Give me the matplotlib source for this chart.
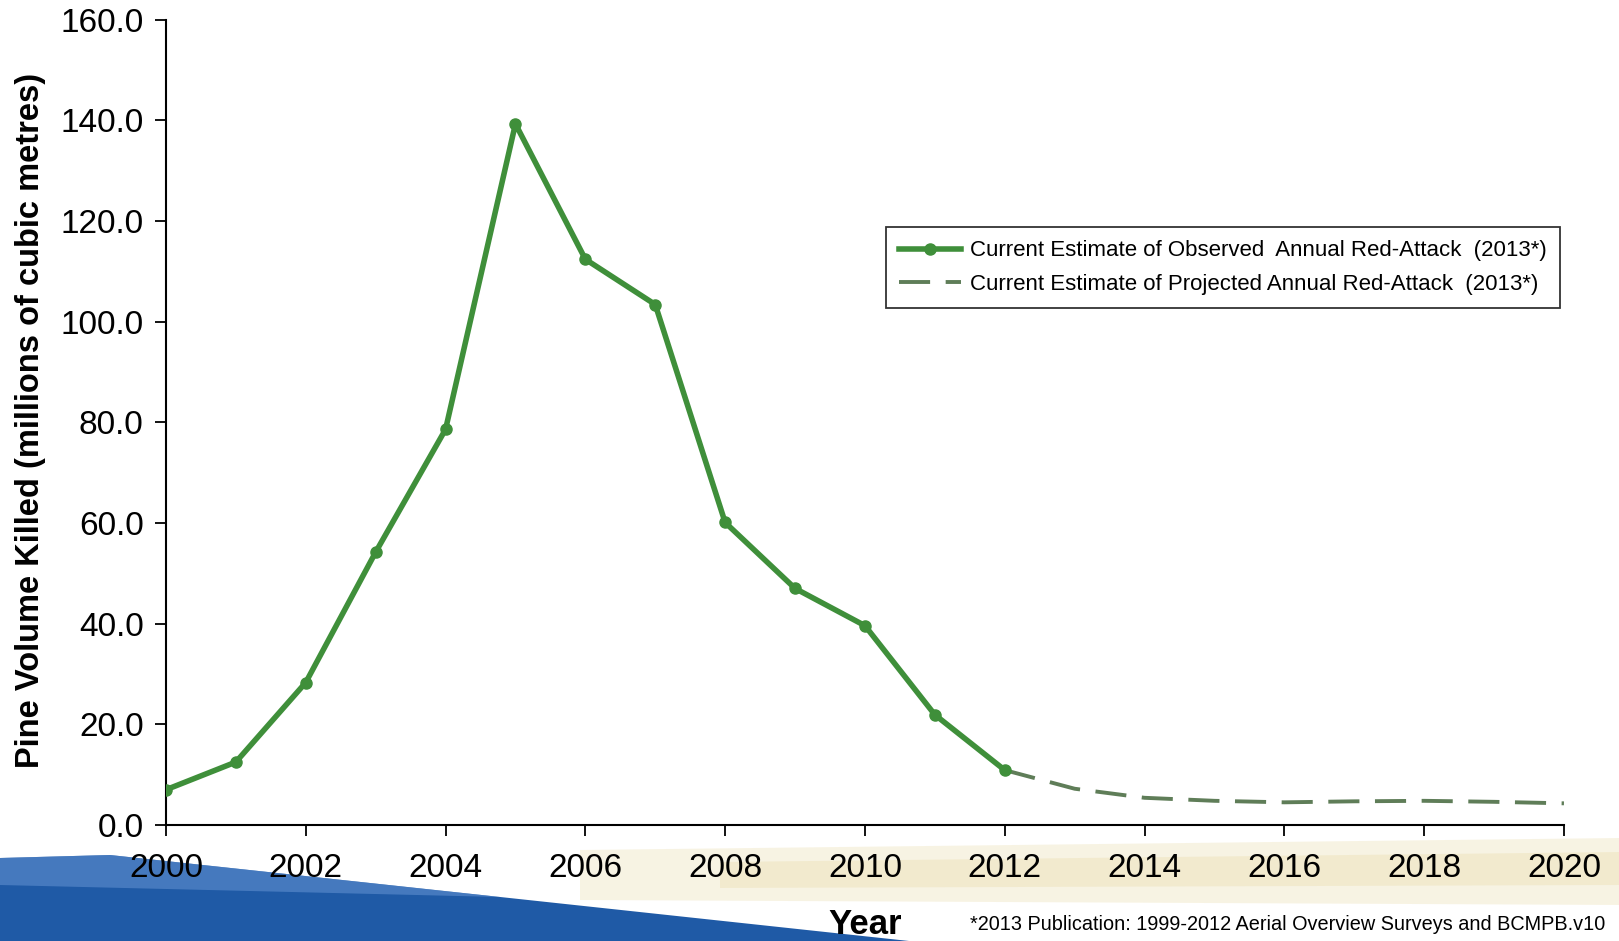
import numpy as np
import matplotlib
matplotlib.use('Agg')
import matplotlib.pyplot as plt
from matplotlib.patches import Polygon

plt.rcParams['font.family'] = ['Liberation Sans', 'DejaVu Sans']

# Observed red-attack volumes (millions m3)
obs_years = [2000, 2001, 2002, 2003, 2004, 2005, 2006, 2007, 2008, 2009, 2010, 2011, 2012]
obs_vals = [7.0, 12.5, 28.3, 54.2, 78.6, 139.3, 112.4, 103.4, 60.1, 47.0, 39.6, 21.9, 10.9]

# Projected red-attack volumes
proj_years = [2012, 2013, 2014, 2015, 2016, 2017, 2018, 2019, 2020]
proj_vals = [10.9, 7.2, 5.4, 4.8, 4.5, 4.7, 4.8, 4.6, 4.3]

x_ticks = list(range(2000, 2021, 2))
y_ticks = list(range(0, 161, 20))

obs_label = 'Current Estimate of Observed  Annual Red-Attack  (2013*)'
proj_label = 'Current Estimate of Projected Annual Red-Attack  (2013*)'
footnote = '*2013 Publication: 1999-2012 Aerial Overview Surveys and BCMPB.v10'

green = '#3f8f3a'

fig = plt.figure(figsize=(16.19, 9.41), dpi=100)

# background decoration: blue swoosh and pale gold band at the bottom
W, H = 1619.0, 941.0
def fpoly(pts, **kw):
    p = Polygon([(x / W, 1 - y / H) for x, y in pts], closed=True,
                transform=fig.transFigure, **kw)
    fig.patches.append(p)

fpoly([(580, 850), (1619, 838), (1619, 905), (580, 900)], facecolor='#f5efd8',
      edgecolor='none', alpha=0.7, zorder=0)
fpoly([(720, 862), (1619, 852), (1619, 885), (720, 888)], facecolor='#ede1b6',
      edgecolor='none', alpha=0.45, zorder=0)
fpoly([(0, 858), (110, 855), (909, 941), (0, 941)], facecolor='#1f5aa6',
      edgecolor='none', zorder=0)
fpoly([(0, 858), (110, 855), (500, 897), (0, 885)], facecolor='#5f8fcf',
      edgecolor='none', alpha=0.6, zorder=0)

ax = fig.add_axes([0.1025, 0.1233, 0.8635, 0.8558])
ax.set_zorder(2)
ax.patch.set_alpha(0)

ax.plot(obs_years, obs_vals, color=green, lw=4, marker='o', ms=8,
        label=obs_label, zorder=3)
ax.plot(proj_years, proj_vals, color='#5f7d58', lw=2.8, ls=(0, (8, 4)),
        label=proj_label, zorder=2)

ax.set_xlim(2000, 2020)
ax.set_ylim(0, 160)
ax.set_xticks(x_ticks)
ax.set_yticks(y_ticks)
ax.set_yticklabels(['%.1f' % v for v in y_ticks])
ax.tick_params(axis='both', labelsize=24, length=8, width=1.3, direction='out')
ax.tick_params(axis='x', pad=12)
ax.tick_params(axis='y', pad=8)
for s in ['top', 'right']:
    ax.spines[s].set_visible(False)
for s in ['left', 'bottom']:
    ax.spines[s].set_linewidth(1.5)

fig.text(0.019, 0.553, 'Pine Volume Killed (millions of cubic metres)',
         rotation=90, fontsize=23.5, fontweight='bold', ha='center', va='center')
fig.text(865 / W, 1 - 925 / H, 'Year', fontsize=25, fontweight='bold',
         ha='center', va='center')
fig.text(970 / W, 1 - 925 / H, footnote, fontsize=14.3, ha='left', va='center')

leg = ax.legend(loc='upper left', bbox_to_anchor=(0.515, 0.7425), fontsize=16,
                frameon=True, fancybox=False, edgecolor='black',
                borderaxespad=0, handlelength=2.8, handletextpad=0.4,
                borderpad=0.6, labelspacing=0.55)
leg.get_frame().set_linewidth(1.3)

fig.savefig('out.png', dpi=100)
